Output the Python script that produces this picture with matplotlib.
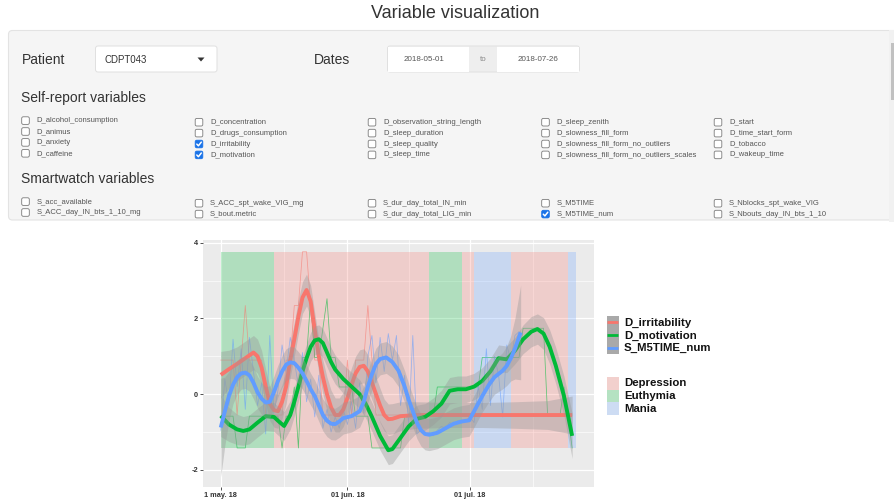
import numpy as np
import pandas as pd
import matplotlib
matplotlib.use("Agg")
import matplotlib.pyplot as plt
from matplotlib.patches import Rectangle, FancyBboxPatch, Polygon
from matplotlib.lines import Line2D

plt.rcParams['font.family'] = ['Liberation Sans', 'DejaVu Sans']

# ---------------- selector contents ----------------
patient = "CDPT043"
date_from = "2018-05-01"
date_to = "2018-07-26"

self_report_cols = [
    ["D_alcohol_consumption", "D_animus", "D_anxiety", "D_caffeine"],
    ["D_concentration", "D_drugs_consumption", "D_irritability", "D_motivation"],
    ["D_observation_string_length", "D_sleep_duration", "D_sleep_quality", "D_sleep_time"],
    ["D_sleep_zenith", "D_slowness_fill_form", "D_slowness_fill_form_no_outliers",
     "D_slowness_fill_form_no_outliers_scales"],
    ["D_start", "D_time_start_form", "D_tobacco", "D_wakeup_time"],
]
smartwatch_cols = [
    ["S_acc_available", "S_ACC_day_IN_bts_1_10_mg"],
    ["S_ACC_spt_wake_VIG_mg", "S_bout.metric"],
    ["S_dur_day_total_IN_min", "S_dur_day_total_LIG_min"],
    ["S_M5TIME", "S_M5TIME_num"],
    ["S_Nblocks_spt_wake_VIG", "S_Nbouts_day_IN_bts_1_10"],
]
selected = ["D_irritability", "D_motivation", "S_M5TIME_num"]

# ---------------- daily scaled values (day 0 = 2018-05-01) ----------------
irritability_raw = (
    [0.90, 0.90, 0.90, 0.90, -0.55, 0.90, 2.34, 0.90, 0.90, 0.90]
    + [0.90, -0.55, -0.55, -0.55, -0.55, -0.55, 0.90, 0.90, 2.34, 2.34]
    + [3.76, 3.76, 2.34, 0.90, 0.90, -0.55, -0.55, -0.55, -0.55, -0.55]
    + [-0.55, 0.90, -0.55, 0.90, 0.90, 0.90, 2.34, 0.90, -0.55, -0.55]
    + [-0.55] * 47
)
motivation_raw = (
    [-0.58, -0.58, -0.58, -0.58, -1.42, -1.42, -1.42, -0.58, -0.58, -0.58]
    + [-0.58, -0.58, -0.58, -0.58, -0.58]
    + [-1.42, -0.58, -0.58, 0.19, -1.42, 0.97, 0.97, 2.52, 0.97, 0.97, 1.74, 2.52, 0.97]
    + [0.97, 0.19, 0.19, 0.19, 0.19, -0.58, -0.58, -0.58, -0.58, -1.42]
    + [-1.42] * 7
    + [-0.58] * 8
    + [0.19] * 11
    + [0.97] * 10
    + [1.74] * 6
    + [-0.58, -0.58, -0.58, -0.58, 0.19, -0.58, -1.42]
)
m5time_raw = [
    -0.95, 0.40, -0.30, 1.45, 0.20, 1.20, -0.40, 1.50, 0.60, -0.30,
    0.30, -1.05, 1.55, -0.50, 0.10, 1.30, 0.60, 1.50, 0.90, 0.20,
    1.10, -0.20, 0.40, -0.60, 0.50, -0.90, -0.40, -1.00, -0.60, -0.90,
    -0.40, -0.80, -0.20, -0.90, 0.30, -0.50, 1.00, 1.55, 0.30, 1.50,
    0.60, 1.60, 0.90, 1.55, -0.30, 0.50, -0.80, 1.55, -1.05, -0.95,
    -1.05, -1.00, -1.10, -0.95, -0.85, -0.90, -0.75, -0.80, -0.70, -0.75,
    -0.70, -0.60, -0.75, 0.20, -0.40, 1.20, -0.30, 1.00, 0.50, -0.60,
    1.30, 0.90, 1.55, 1.65,
]

# loess fits and standard errors
irritability_fit_day = [0, 2, 4, 6, 8, 9, 10, 11, 12, 13, 14, 15, 16, 17, 18, 19, 20, 21, 22, 23,
                        24, 25, 26, 27, 28, 29, 30, 31, 32, 33, 34, 35, 36, 37, 38, 39, 40, 41, 42,
                        44, 48, 56, 64, 72, 80, 86]
irritability_fit = [0.51, 0.66, 0.80, 0.95, 1.10, 1.00, 0.70, 0.20, -0.25, -0.42,
                    -0.45, -0.20, 0.20, 0.90, 1.45, 2.05, 2.55, 2.75, 2.45, 1.70,
                    1.00, 0.45, 0.00, -0.35, -0.55, -0.55, -0.40, -0.10, 0.25, 0.55,
                    0.72, 0.75, 0.60, 0.30, 0.00, -0.30, -0.55, -0.66, -0.65, -0.58,
                    -0.55, -0.55, -0.55, -0.55, -0.55, -0.55]
irritability_se = [0.62, 0.50, 0.45, 0.45, 0.45, 0.45, 0.45, 0.45, 0.45, 0.45,
                   0.45, 0.45, 0.45, 0.45, 0.45, 0.45, 0.42, 0.42, 0.42, 0.45,
                   0.45, 0.45, 0.45, 0.45, 0.45, 0.45, 0.45, 0.45, 0.45, 0.45,
                   0.45, 0.45, 0.45, 0.45, 0.45, 0.45, 0.42, 0.40, 0.40, 0.38,
                   0.35, 0.33, 0.33, 0.35, 0.38, 0.50]

motivation_fit_day = [0, 2, 4, 5.5, 7, 9, 11, 13, 14, 15.5, 17, 18, 19, 20, 21, 22, 23, 24, 25,
                      26, 27, 28, 30, 32, 34, 35.5, 37, 39, 41, 42, 44, 46, 48, 50, 52, 54, 56,
                      58, 60, 62, 64, 66, 68, 70, 72, 74, 76, 77.5, 79, 80.5, 82, 84, 86]
motivation_fit = [-0.57, -0.80, -0.93, -0.97, -0.93, -0.75, -0.58, -0.60, -0.70, -0.84,
                  -0.55, -0.20, 0.20, 0.60, 0.95, 1.25, 1.42, 1.45, 1.35, 1.10,
                  0.85, 0.65, 0.40, 0.20, 0.00, -0.26, -0.60, -1.10, -1.48, -1.45,
                  -1.15, -0.85, -0.65, -0.60, -0.45, -0.25, 0.09, 0.13, 0.13, 0.20,
                  0.35, 0.60, 0.95, 0.92, 1.15, 1.45, 1.65, 1.72, 1.60, 1.25,
                  0.75, -0.05, -1.10]
motivation_se = [0.55, 0.45, 0.40, 0.38, 0.38, 0.38, 0.38, 0.38, 0.38, 0.38,
                 0.38, 0.38, 0.38, 0.38, 0.38, 0.38, 0.38, 0.38, 0.38, 0.38,
                 0.38, 0.38, 0.38, 0.38, 0.38, 0.38, 0.38, 0.38, 0.38, 0.38,
                 0.38, 0.38, 0.36, 0.35, 0.35, 0.35, 0.35, 0.35, 0.35, 0.35,
                 0.35, 0.35, 0.35, 0.35, 0.35, 0.38, 0.40, 0.40, 0.42, 0.45,
                 0.48, 0.52, 0.60]

m5time_fit_day = [0, 1, 2, 3, 4, 5, 6, 7, 8, 9, 10, 11, 12, 13, 14, 15, 16, 17, 18, 19, 20,
                  21, 22, 23, 24, 25, 26, 27, 28, 29, 30, 32, 34, 35, 36, 37, 38, 39, 40.5, 42,
                  43.5, 45, 46, 47, 48, 49, 50, 51, 53, 55, 57, 59, 60.8, 62, 63, 64, 65.7, 67,
                  69, 70, 71, 72, 73.4]
m5time_fit = [-0.88, -0.45, -0.05, 0.25, 0.45, 0.55, 0.57, 0.50, 0.30, 0.05,
              -0.12, -0.22, -0.20, 0.05, 0.35, 0.60, 0.78, 0.84, 0.82, 0.70,
              0.55, 0.35, 0.13, -0.05, -0.30, -0.55, -0.70, -0.78, -0.79, -0.72,
              -0.63, -0.58, -0.45, -0.20, 0.20, 0.53, 0.80, 0.93, 0.97, 0.85,
              0.62, 0.20, -0.15, -0.45, -0.75, -0.95, -1.05, -1.07, -1.02, -0.90,
              -0.78, -0.72, -0.69, -0.45, -0.25, -0.05, 0.26, 0.45, 0.62, 0.75,
              0.95, 1.20, 1.63]
m5time_se = [1.30, 0.90, 0.65, 0.50, 0.45, 0.42, 0.42, 0.42, 0.42, 0.42,
             0.42, 0.42, 0.42, 0.42, 0.42, 0.42, 0.42, 0.42, 0.42, 0.42,
             0.42, 0.42, 0.42, 0.42, 0.42, 0.42, 0.42, 0.42, 0.42, 0.42,
             0.42, 0.42, 0.42, 0.42, 0.42, 0.42, 0.42, 0.42, 0.42, 0.42,
             0.42, 0.42, 0.42, 0.42, 0.42, 0.42, 0.42, 0.42, 0.42, 0.42,
             0.42, 0.42, 0.42, 0.42, 0.42, 0.42, 0.45, 0.45, 0.48, 0.52,
             0.60, 0.80, 1.25]

# mood phases
phase_start = ["2018-05-01", "2018-05-14", "2018-06-21", "2018-06-29", "2018-07-02", "2018-07-11", "2018-07-25"]
phase_end = ["2018-05-14", "2018-06-21", "2018-06-29", "2018-07-02", "2018-07-11", "2018-07-25", "2018-07-27"]
phase_state = ["Euthymia", "Depression", "Euthymia", "Depression", "Mania", "Depression", "Mania"]
states = ["Depression", "Euthymia", "Mania"]

tick_dates = ["2018-05-01", "2018-06-01", "2018-07-01"]
tick_labels = ["1 may. 18", "01 jun. 18", "01 jul. 18"]

# ---------------- colours ----------------
series_color = {"D_irritability": "#F8766D", "D_motivation": "#00BA38", "S_M5TIME_num": "#619CFF"}
state_color = {"Depression": "#F8766D", "Euthymia": "#00BA38", "Mania": "#619CFF"}
state_key = {"Depression": "#f2d0cd", "Euthymia": "#b5e2c2", "Mania": "#cddcf3"}

W, H = 895, 503
fig = plt.figure(figsize=(W / 100, H / 100), dpi=100)
fig.patch.set_facecolor("white")

# page layer in pixel coordinates
ui = fig.add_axes([0, 0, 1, 1])
ui.set_xlim(0, W)
ui.set_ylim(H, 0)
ui.axis("off")

ui.text(455, 13, "Variable visualization", ha="center", va="center", fontsize=13, color="#333333")

# well panel
ui.add_patch(FancyBboxPatch((8.5, 30.5), 900, 189.5, boxstyle="round,pad=0,rounding_size=4",
                            facecolor="#f5f5f5", edgecolor="#e3e3e3", lw=0.8))
# scrollbar
ui.add_patch(Rectangle((889, 30), 6, 192, facecolor="#f1f1f1", edgecolor="none"))
ui.add_patch(Rectangle((891.5, 43), 3.5, 57, facecolor="#c1c1c1", edgecolor="none"))

# patient selector
ui.text(22, 60, "Patient", ha="left", va="center", fontsize=10, color="#333333")
ui.add_patch(FancyBboxPatch((95.5, 46), 121.5, 26, boxstyle="round,pad=0,rounding_size=2.5",
                            facecolor="white", edgecolor="#e0e0e0", lw=0.7))
ui.text(105, 59.5, patient, ha="left", va="center", fontsize=7, color="#333333")
ui.add_patch(Polygon([[197.5, 57.5], [204.5, 57.5], [201, 61.5]], closed=True,
                     facecolor="#333333", edgecolor="none"))

# date range
ui.text(314, 60, "Dates", ha="left", va="center", fontsize=10, color="#333333")
ui.add_patch(Rectangle((469.5, 46), 28, 26, facecolor="#eeeeee", edgecolor="none"))
ui.add_patch(FancyBboxPatch((387.5, 46), 192, 26, boxstyle="round,pad=0,rounding_size=2.5",
                            facecolor="none", edgecolor="#e0e0e0", lw=0.7))
ui.add_patch(Rectangle((388, 46.5), 81.5, 25, facecolor="white", edgecolor="none"))
ui.add_patch(Rectangle((497.5, 46.5), 81.5, 25, facecolor="white", edgecolor="none"))
ui.text(424, 59.5, date_from, ha="center", va="center", fontsize=5.8, color="#555555")
ui.text(483.5, 59.5, "to", ha="center", va="center", fontsize=5.8, color="#888888")
ui.text(538, 59.5, date_to, ha="center", va="center", fontsize=5.8, color="#555555")


def checkbox(x, y, checked):
    s = 7.6
    if checked:
        ui.add_patch(FancyBboxPatch((x - s / 2, y - s / 2), s, s, boxstyle="round,pad=0,rounding_size=1.6",
                                    facecolor="#1a73e8", edgecolor="#1a73e8", lw=0.6))
        ui.add_line(Line2D([x - 2.2, x - 0.6, x + 2.3], [y + 0.1, y + 1.8, y - 1.9],
                           color="white", lw=1.1, solid_capstyle="round"))
    else:
        ui.add_patch(FancyBboxPatch((x - s / 2, y - s / 2), s, s, boxstyle="round,pad=0,rounding_size=1.6",
                                    facecolor="white", edgecolor="#7a7a7a", lw=0.6))


col_x = [25.5, 199, 372, 545.5, 718]
col_dy = [0, 1.6, 1.6, 1.6, 1.6]
row_h = 10.9


def checkbox_group(title, title_y, cols, first_y):
    ui.text(21.5, title_y, title, ha="left", va="center", fontsize=10, color="#333333")
    for cx, dy, names in zip(col_x, col_dy, cols):
        for i, name in enumerate(names):
            y = first_y + dy + i * row_h
            checkbox(cx, y, name in selected)
            ui.text(cx + 11, y, name, ha="left", va="center", fontsize=5.5, color="#555555")


checkbox_group("Self-report variables", 98.3, self_report_cols, 120.6)
checkbox_group("Smartwatch variables", 179, smartwatch_cols, 201.6)

# ---------------- time-series chart ----------------
t0 = pd.Timestamp(date_from)


def to_day(d):
    return (pd.Timestamp(d) - t0).days


ax = fig.add_axes([203 / W, 1 - 487 / H, 391 / W, 247 / H])
ax.set_facecolor("#EBEBEB")
for sp in ax.spines.values():
    sp.set_visible(False)

raw = {"D_irritability": irritability_raw, "D_motivation": motivation_raw, "S_M5TIME_num": m5time_raw}
fits = {
    "D_irritability": (irritability_fit_day, irritability_fit, irritability_se),
    "D_motivation": (motivation_fit_day, motivation_fit, motivation_se),
    "S_M5TIME_num": (m5time_fit_day, m5time_fit, m5time_se),
}

all_vals = np.concatenate([np.asarray(v) for v in raw.values()])
ymin, ymax = all_vals.min(), all_vals.max()

x0 = to_day(phase_start[0])
x1 = to_day(phase_end[-1])
pad = 0.05 * (x1 - x0)
ax.set_xlim(x0 - pad, x1 + pad)
ax.set_ylim(-2.45, 4.07)

ax.set_xticks([to_day(d) for d in tick_dates])
ax.set_xticklabels(tick_labels)
ax.set_xticks([15.5, 46, 76.5], minor=True)
ax.set_yticks([-2, 0, 2, 4])
ax.set_yticklabels(["-2", "0", "2", "4"])
ax.set_yticks([-1, 1, 3], minor=True)
ax.grid(True, which="major", color="white", lw=0.9)
ax.grid(True, which="minor", color="white", lw=0.45)
ax.set_axisbelow(True)
ax.tick_params(which="major", length=2, width=0.6, color="#333333", pad=1.5,
               labelsize=5.3, labelcolor="#333333")
ax.tick_params(which="minor", length=0)
for lab in ax.get_xticklabels() + ax.get_yticklabels():
    lab.set_fontweight("bold")

# mood phase bands
for s, e, st in zip(phase_start, phase_end, phase_state):
    ax.add_patch(Rectangle((to_day(s), ymin), to_day(e) - to_day(s), ymax - ymin,
                           facecolor=state_color[st], alpha=0.25, edgecolor="none", zorder=1))

# raw daily values
for name in selected:
    vals = raw[name]
    ax.plot(np.arange(len(vals)), vals, color=series_color[name], lw=0.55, alpha=0.6, zorder=2)

# smoothed trend with confidence ribbon
for name in selected:
    d, f, se = (np.asarray(a, dtype=float) for a in fits[name])
    ax.fill_between(d, f - se, f + se, color="#999999", alpha=0.4, lw=0, zorder=3)
    ax.plot(d, f, color=series_color[name], lw=2.8, solid_capstyle="butt",
            solid_joinstyle="round", zorder=3)

# ---------------- legend ----------------
key_x, key_w = 607, 12
line_rows = [322.3, 335, 347.7]
ui.add_patch(Rectangle((key_x, 316), key_w, 38, facecolor="#a9a9a9", edgecolor="none"))
for name, y in zip(selected, line_rows):
    ui.add_line(Line2D([key_x + 0.5, key_x + key_w - 0.5], [y, y], color=series_color[name],
                       lw=2.0, solid_capstyle="butt"))
    ui.text(624, y + 0.5, name, ha="left", va="center", fontsize=8.2, fontweight="bold", color="#111111")

fill_rows = [383, 396, 408.7]
for st, y in zip(states, fill_rows):
    ui.add_patch(Rectangle((key_x, y - 6.5), key_w, 13, facecolor=state_key[st], edgecolor="none"))
    ui.text(624, y, st, ha="left", va="center", fontsize=8.2, fontweight="bold", color="#111111")

fig.savefig("out.png", dpi=100)
